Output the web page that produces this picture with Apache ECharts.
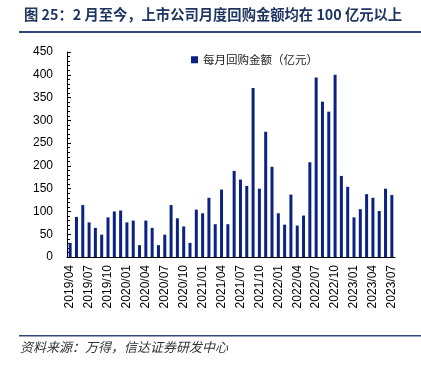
<!DOCTYPE html>
<html><head><meta charset="utf-8">
<script src="https://cdn.jsdelivr.net/npm/echarts@6/dist/echarts.min.js"></script>
<style>html,body{margin:0;padding:0;background:#fff}#c{width:421px;height:373px}</style>
</head><body><div id="c"></div>
<script>
const months = ['2019/04','2019/05','2019/06','2019/07','2019/08','2019/09','2019/10','2019/11','2019/12',
'2020/01','2020/02','2020/03','2020/04','2020/05','2020/06','2020/07','2020/08','2020/09','2020/10','2020/11','2020/12',
'2021/01','2021/02','2021/03','2021/04','2021/05','2021/06','2021/07','2021/08','2021/09','2021/10','2021/11','2021/12',
'2022/01','2022/02','2022/03','2022/04','2022/05','2022/06','2022/07','2022/08','2022/09','2022/10','2022/11','2022/12',
'2023/01','2023/02','2023/03','2023/04','2023/05','2023/06','2023/07'];
const buyback = [31,88,114,76,64,49,87,100,102,
76,80,26,80,64,26,49,114,85,67,31,104,
96,130,72,148,72,189,170,156,371,150,275,198,
96,71,137,69,91,208,394,341,319,400,178,154,
87,105,138,130,101,150,136];
const seriesName = '每月回购金额（亿元）';
const titleText = '图 25：2 月至今，上市公司月度回购金额均在 100 亿元以上';
const sourceText = '资料来源：万得，信达证券研发中心';
const yTicks = {min:0, max:450, interval:50};

const chart = echarts.init(document.getElementById('c'), null, {renderer:'canvas'});
chart.setOption({
  animation:false,
  title:{text:titleText, left:19, top:2, textStyle:{fontFamily:'Noto Sans CJK SC', fontSize:14.3, fontWeight:'bold', color:'#1f3561'}},
  graphic:[
    {type:'rect', shape:{x:19,y:31,width:402,height:2}, style:{fill:'#34497a'}},
    {type:'rect', shape:{x:19,y:335,width:402,height:1.5}, style:{fill:'#34497a'}},
    {type:'text', left:20, top:341, style:{text:sourceText, font:'italic 13px "Noto Sans CJK SC"', fill:'#333'}}
  ],
  legend:{data:[seriesName], left:186, top:49, itemWidth:7, itemHeight:7, itemGap:4, icon:'rect',
    textStyle:{fontFamily:'Noto Sans CJK SC', fontSize:11.5, color:'#222'}},
  grid:{left:67, right:26, top:52, bottom:116, containLabel:false},
  xAxis:{type:'category', data:months, boundaryGap:true,
    axisLine:{lineStyle:{color:'#000', width:1}},
    axisTick:{inside:true, interval:2, length:3, alignWithLabel:true, lineStyle:{color:'#000'}},
    axisLabel:{interval:2, rotate:90, margin:8, fontFamily:'Liberation Sans', fontSize:12, color:'#000'}},
  yAxis:{type:'value', min:yTicks.min, max:yTicks.max, interval:yTicks.interval,
    axisLine:{show:true, lineStyle:{color:'#000', width:1}},
    axisTick:{show:true, inside:true, length:4, lineStyle:{color:'#000'}},
    minorTick:{show:true, splitNumber:5, length:3, lineStyle:{color:'#000'}},
    splitLine:{show:false},
    axisLabel:{margin:14, fontFamily:'Liberation Sans', fontSize:12, color:'#000'}},
  series:[{name:seriesName, type:'bar', data:buyback, barWidth:3, itemStyle:{color:'#0b2283'}}]
});
</script></body></html>
